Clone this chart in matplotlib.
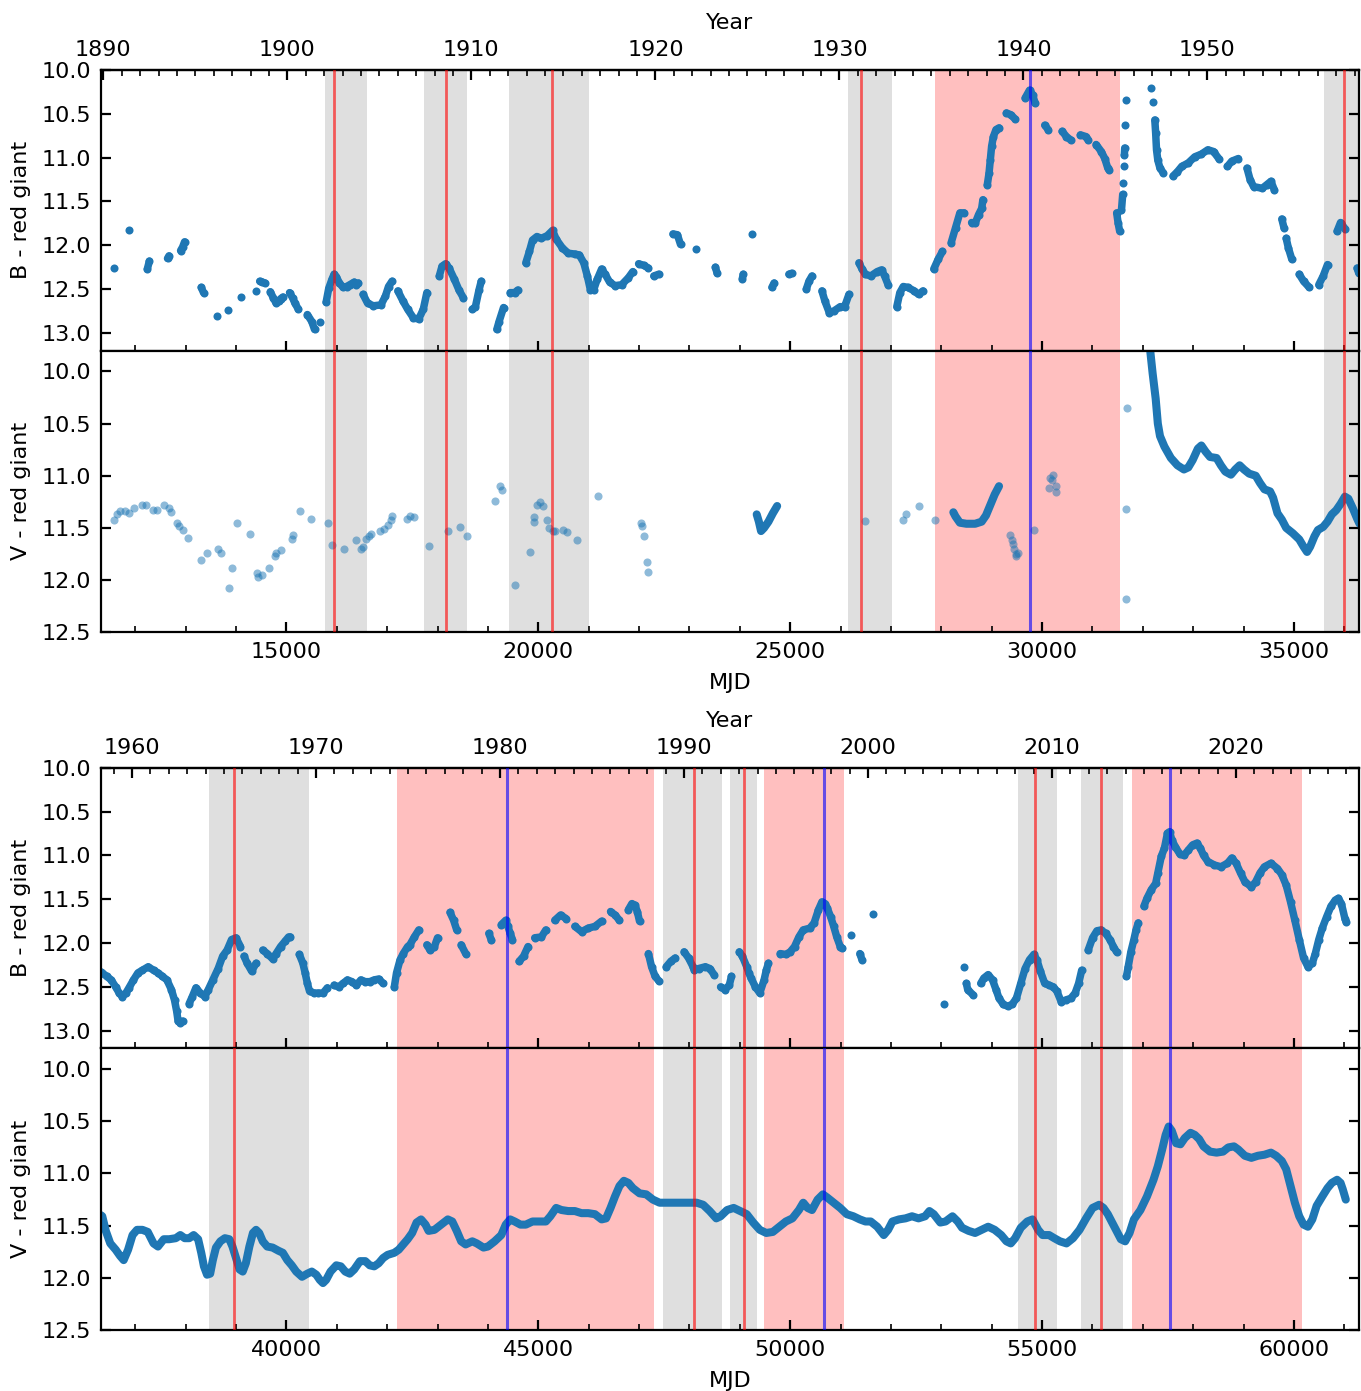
import numpy as np
import matplotlib
matplotlib.use("Agg")
import matplotlib.pyplot as plt
from matplotlib.ticker import MultipleLocator, FixedLocator

N = np.nan

# ---------------- bands / event lines (MJD) ----------------
gray_bands = [(15771, 16596), (17741, 18594), (19410, 21008), (26139, 27020), (35603, 36290),
              (38463, 40443), (47473, 48640), (48797, 49350), (54519, 55296), (55771, 56610)]
pink_bands = [(27867, 31540), (42200, 47294), (49479, 51069), (56783, 60155)]
red_lines = [15948, 18177, 20280, 26397, 35984, 38960, 48085, 49089, 54864, 56161]
blue_lines = [29769, 44383, 50664, 57544]

xlims = [(11320, 36290), (36320, 61290)]
year_ticks = [[1890, 1900, 1910, 1920, 1930, 1940, 1950],
              [1960, 1970, 1980, 1990, 2000, 2010, 2020]]

# ---------------- B band, first half (NaN separates segments) ----------------
b1_mjd = [11584, N, 11885, N, 12240, 12280, N, 12640, 12670, N, 12900, 12940, 12979, N,
          13310, 13355, N, 13620, N, 13841, N, 14106, N, 14398, N, 14470, 14520, 14575, N,
          14681, 14740, 14796, 14850, 14885, 14930, N, 15062, 15124, 15168, 15239, N,
          15416, 15504, 15558, N, 15664, N,
          15788, 15841, 15903, 15947, 15991, 16053, 16124, 16195, 16257, 16345, 16390, 16430, N,
          16522, 16611, 16726, 16876, 16965, 17027, 17097, N,
          17212, 17318, 17407, 17522, 17628, 17717, 17788, N,
          18035, 18088, 18159, 18230, 18336, 18425, 18513, N,
          18690, 18752, 18823, 18867, N, 19177, 19221, 19310, N, 19442, 19531, 19593, N,
          19752, 19823, 19885, 19973, 20062, 20177, 20283, 20354, 20478, 20593, 20726, 20814,
          20903, 20973, 21035, 21097, 21168, 21257, 21327, 21416, 21522, 21655, 21788, 21876, N,
          21991, 22097, 22186, N, 22292, 22389, N, 22673, 22761, 22823, N, 23125, N,
          23515, 23550, N, 24050, 24067, N, 24240, N, 24637, 24680, N, 24974, 25026, N,
          25320, 25372, 25432, N, 25630, 25691, 25777, 25864, 25993, 26080, 26166, N,
          26364, 26425, 26494, 26598, 26727, 26813, 26874, 26943, N,
          27116, 27176, 27245, 27332, 27461, 27547, 27634, N, 27850, 27936, 28022, N,
          28195, 28282, 28368, 28454, N, 28601, 28670, 28739, 28800, 28825, N,
          28912, 28946, 28972, 28998, 29033, 29085, 29145, N, 29292, 29378, 29465, N,
          29663, 29750, 29810, 29862, N, 30052, 30121, N, 30397, 30484, 30570, N,
          30760, 30872, 30915, N, 31071, 31174, 31244, 31304, 31330, N,
          31480, 31510, 31540, N, 31575, 31600, N, 31612, N, 31622, N, 31632, 31640, N, 31652, N, 31667, N,
          32168, N, 32194, N, 32237, 32254, 32271, 32297, 32340, 32401, N,
          32599, 32686, 32772, 32902, 33031, 33161, 33290, 33402, 33506, N,
          33679, 33765, 33895, N, 34067, 34128, 34197, 34370, 34456, 34542, 34611, N,
          34758, 34801, N, 34845, 34888, 34957, N, 35104, 35190, 35302, N,
          35492, 35579, 35665, N, 35855, 35924, 36010, N, 36252, 36287]
b1_mag = [12.26, N, 11.83, N, 12.27, 12.18, N, 12.15, 12.12, N, 12.06, 12.02, 11.96, N,
          12.48, 12.54, N, 12.81, N, 12.74, N, 12.59, N, 12.52, N, 12.41, 12.42, 12.43, N,
          12.53, 12.60, 12.66, 12.63, 12.61, 12.59, N, 12.54, 12.60, 12.66, 12.73, N,
          12.79, 12.87, 12.96, N, 12.87, N,
          12.65, 12.49, 12.39, 12.33, 12.36, 12.43, 12.48, 12.47, 12.45, 12.42, 12.45, 12.43, N,
          12.56, 12.66, 12.69, 12.68, 12.58, 12.47, 12.41, N,
          12.52, 12.64, 12.73, 12.83, 12.84, 12.73, 12.54, N,
          12.35, 12.24, 12.21, 12.26, 12.39, 12.51, 12.60, N,
          12.73, 12.70, 12.51, 12.41, N, 12.96, 12.87, 12.71, N, 12.54, 12.54, 12.51, N,
          12.20, 12.07, 11.94, 11.90, 11.92, 11.89, 11.83, 11.93, 12.03, 12.09, 12.10, 12.11,
          12.20, 12.35, 12.51, 12.51, 12.39, 12.27, 12.33, 12.42, 12.46, 12.45, 12.37, 12.30, N,
          12.21, 12.23, 12.26, N, 12.35, 12.33, N, 11.87, 11.88, 11.99, N, 12.04, N,
          12.25, 12.32, N, 12.38, 12.33, N, 11.87, N, 12.48, 12.43, N, 12.33, 12.32, N,
          12.50, 12.41, 12.35, N, 12.52, 12.64, 12.77, 12.75, 12.70, 12.70, 12.56, N,
          12.20, 12.27, 12.33, 12.35, 12.30, 12.28, 12.35, 12.45, N,
          12.70, 12.54, 12.47, 12.48, 12.52, 12.56, 12.52, N, 12.27, 12.16, 12.07, N,
          11.97, 11.80, 11.63, 11.63, N, 11.74, 11.75, 11.65, 11.58, 11.48, N,
          11.31, 11.18, 11.03, 10.87, 10.76, 10.68, 10.66, N, 10.49, 10.51, 10.56, N,
          10.32, 10.23, 10.28, 10.38, N, 10.63, 10.68, N, 10.70, 10.76, 10.80, N,
          10.74, 10.76, 10.80, N, 10.85, 10.93, 11.01, 11.12, 11.14, N,
          11.63, 11.75, 11.84, N, 11.60, 11.42, N, 11.29, N, 11.10, N, 10.97, 10.89, N, 10.63, N, 10.34, N,
          10.20, N, 10.36, N, 10.57, 10.72, 10.91, 11.03, 11.12, 11.17, N,
          11.21, 11.16, 11.10, 11.06, 10.99, 10.96, 10.91, 10.93, 11.01, N,
          11.10, 11.04, 11.01, N, 11.12, 11.25, 11.33, 11.35, 11.31, 11.27, 11.37, N,
          11.70, 11.80, N, 11.92, 12.03, 12.16, N, 12.33, 12.41, 12.48, N,
          12.45, 12.35, 12.22, N, 11.84, 11.74, 11.81, N, 12.26, 12.32]

# ---------------- V band, first half: scattered points ----------------
v1s_mjd = [11584, 11628, 11699, 11788, 11876, 11982, 12124, 12212, 12345, 12425, 12566, 12673,
           12717, 12832, 12876, 12938, 13044, 13310, 13416, 13637, 13699, 13867, 13920, 14018,
           14274, 14407, 14434, 14522, 14646, 14770, 14796, 14885, 15106, 15133, 15265, 15487,
           15832, 15903, 16142, 16381, 16478, 16522, 16584, 16637, 16673, 16858, 16938, 17009,
           17080, 17097, 17389, 17451, 17540, 17823, 18204, 18442, 18575, 19150, 19248, 19283,
           19531, 19841, 19912, 19920, 19973, 20035, 20088, 20177, 20212, 20283, 20327, 20487,
           20575, 20770, 21177, 22035, 22053, 22097, 22159, 22177,
           26494, 27245, 27297, 27556, 27867,
           29361, 29395, 29420, 29450, 29475, 29490, 29520, 29836,
           30138, 30155, 30190, 30207, 30276, 30276, 31693, 31667, 31667]
v1s_mag = [11.42, 11.37, 11.34, 11.34, 11.36, 11.31, 11.28, 11.28, 11.33, 11.33, 11.28, 11.31,
           11.35, 11.45, 11.48, 11.52, 11.60, 11.81, 11.74, 11.70, 11.74, 12.08, 11.88, 11.45,
           11.56, 11.93, 11.97, 11.95, 11.88, 11.77, 11.74, 11.71, 11.61, 11.57, 11.34, 11.41,
           11.45, 11.66, 11.70, 11.62, 11.70, 11.68, 11.61, 11.58, 11.56, 11.53, 11.51, 11.47,
           11.42, 11.39, 11.41, 11.39, 11.40, 11.67, 11.53, 11.49, 11.58, 11.24, 11.10, 11.14,
           12.05, 11.73, 11.44, 11.40, 11.28, 11.25, 11.29, 11.42, 11.50, 11.53, 11.53, 11.52,
           11.54, 11.62, 11.19, 11.45, 11.48, 11.58, 11.83, 11.92,
           11.43, 11.42, 11.37, 11.29, 11.42,
           11.57, 11.62, 11.65, 11.70, 11.75, 11.77, 11.74, 11.52,
           11.12, 11.02, 11.04, 10.99, 11.10, 11.16, 10.35, 11.32, 12.18]

# ---------------- V band, first half: dense runs ----------------
v1d_mjd = [24335, 24378, 24421, 24481, 24568, 24655, 24741, N,
           28238, 28281, 28368, 28497, 28670, 28800, 28886, 28972, 29058, 29145, N,
           32140, 32150, 32194, 32254, 32297, 32340, 32427, 32556, 32686, 32815, 32902, 32988,
           33092, 33161, 33247, 33333, 33463, 33549, 33636, 33748, 33834, 33921, 34007, 34111,
           34240, 34326, 34413, 34525, 34585, 34672, 34758, 34845, 34974, 35104, 35190, 35259,
           35320, 35406, 35475, 35579, 35665, 35751, 35838, 35924, 36010, 36079, 36166, 36252,
           36300]
v1d_mag = [11.37, 11.44, 11.53, 11.50, 11.44, 11.36, 11.29, N,
           11.35, 11.39, 11.45, 11.46, 11.46, 11.44, 11.38, 11.28, 11.18, 11.10, N,
           9.75, 9.82, 10.02, 10.26, 10.50, 10.62, 10.72, 10.83, 10.90, 10.94, 10.92, 10.85,
           10.74, 10.71, 10.77, 10.82, 10.83, 10.90, 10.96, 10.99, 10.94, 10.90, 10.94, 10.98,
           11.00, 11.07, 11.13, 11.15, 11.21, 11.36, 11.42, 11.50, 11.55, 11.61, 11.68, 11.73,
           11.68, 11.58, 11.52, 11.49, 11.44, 11.37, 11.33, 11.27, 11.20, 11.22, 11.31, 11.41,
           11.46]

# ---------------- B band, second half ----------------
b2_mjd = [36320, 36345, 36434, 36522, 36611, 36681, 36743, 36814, 36876, 36965, 37053, 37142,
          37257, 37363, 37451, 37540, 37628, 37717, 37779, 37823, 37850, 37894, 37938, N,
          38071, 38133, 38204, 38292, 38381, 38451, 38540, 38646, 38735, 38823, 38912, 39000, 39088, N,
          39159, 39221, 39310, 39398, N,
          39531, 39619, 39726, 39796, 39885, 39973, 40044, 40080, N,
          40257, 40327, 40372, 40416, 40460, 40549, 40637, 40726, 40814, N,
          40947, 41035, 41124, 41212, 41301, 41389, 41478, 41566, 41655, 41743, 41832, 41920, N,
          42142, 42186, 42257, 42319, 42407, 42451, 42540, 42628, N,
          42788, 42850, 42938, 43000, N, 43248, 43319, 43381, N, 43469, 43558, N,
          44018, 44071, N, 44265, 44354, 44398, 44442, 44487, N,
          44619, 44708, 44796, N, 44929, 45062, 45150, N, 45327, 45442, 45549, N,
          45726, 45858, 45991, 46124, 46257, N, 46434, 46522, 46611, N,
          46788, 46858, 46920, 46965, 47009, N, 47186, 47248, 47319, 47390, N,
          47540, 47628, 47717, N,
          47894, 47982, 48071, 48100, 48186, 48316, 48402, 48489, N,
          48618, 48705, 48791, 48834, N,
          48990, 49050, 49137, 49180, 49223, 49309, 49396, 49482, 49525, 49568, N,
          49801, 49914, 50000, 50086, 50173, 50259, 50389, 50475, 50561, 50630, 50691, 50734,
          50803, 50864, 50924, 50993, 51036, N,
          51209, N, 51382, 51425, N, 51641, N, 53048, N, 53454, N, 53497, 53523, 53627, N,
          53782, 53843, 53929, 54016, 54085, 54145, 54231, 54318, 54404, 54490, 54577, 54663,
          54750, 54836, 54896, 54965, 55052, 55138, 55225, 55294, 55380, 55466, 55570, 55656,
          55725, 55786, N,
          55915, 56002, 56088, 56174, 56261, 56347, 56416, 56477, N,
          56675, 56710, 56762, 56822, 56865, 56908, N,
          57021, 57081, 57168, 57254, 57297, 57366, 57427, 57487, 57530, 57573, 57642, 57729,
          57815, 57902, 57988, 58074, 58143, 58204, 58290, 58420, 58549, 58679, 58765, 58851,
          58938, 59024, 59154, 59240, 59326, 59413, 59542, 59672, 59758, 59845, 59931, 60017,
          60104, 60190, 60276, 60363, 60423, 60492, 60561, 60648, 60734, 60820, 60881, 60941,
          61010, 61036]
b2_mag = [12.33, 12.34, 12.38, 12.42, 12.50, 12.57, 12.61, 12.57, 12.51, 12.42, 12.34, 12.31,
          12.27, 12.31, 12.34, 12.38, 12.42, 12.53, 12.65, 12.78, 12.89, 12.91, 12.89, N,
          12.69, 12.61, 12.51, 12.57, 12.61, 12.53, 12.42, 12.29, 12.15, 12.08, 11.96, 11.94, 12.04, N,
          12.15, 12.23, 12.32, 12.23, N,
          12.08, 12.12, 12.18, 12.12, 12.04, 11.98, 11.93, 11.93, N,
          12.13, 12.23, 12.34, 12.46, 12.55, 12.57, 12.57, 12.57, 12.51, N,
          12.48, 12.50, 12.46, 12.42, 12.44, 12.48, 12.42, 12.44, 12.44, 12.42, 12.41, 12.46, N,
          12.50, 12.34, 12.19, 12.12, 12.04, 12.02, 11.93, 11.85, N,
          12.02, 12.08, 12.04, 11.94, N, 11.65, 11.74, 11.85, N, 12.02, 12.12, N,
          11.89, 11.97, N, 11.79, 11.74, 11.81, 11.89, 11.96, N,
          12.21, 12.15, 12.04, N, 11.94, 11.93, 11.85, N, 11.74, 11.68, 11.72, N,
          11.81, 11.87, 11.83, 11.81, 11.75, N, 11.64, 11.68, 11.74, N,
          11.62, 11.55, 11.57, 11.64, 11.75, N, 12.12, 12.27, 12.38, 12.43, N,
          12.27, 12.21, 12.17, N,
          12.10, 12.17, 12.27, 12.31, 12.29, 12.27, 12.29, 12.36, N,
          12.50, 12.53, 12.48, 12.38, N,
          12.10, 12.15, 12.27, 12.34, 12.40, 12.50, 12.57, 12.42, 12.31, 12.23, N,
          12.12, 12.13, 12.10, 12.04, 11.93, 11.85, 11.83, 11.77, 11.62, 11.53, 11.55, 11.60,
          11.70, 11.81, 11.93, 12.04, 12.06, N,
          11.91, N, 12.12, 12.19, N, 11.67, N, 12.70, N, 12.27, N, 12.46, 12.53, 12.59, N,
          12.46, 12.40, 12.36, 12.42, 12.53, 12.63, 12.70, 12.72, 12.70, 12.63, 12.46, 12.29,
          12.19, 12.13, 12.19, 12.32, 12.46, 12.48, 12.50, 12.55, 12.67, 12.65, 12.63, 12.57,
          12.46, 12.31, N,
          12.08, 11.94, 11.86, 11.85, 11.89, 11.96, 12.04, 12.10, N,
          12.38, 12.27, 12.10, 11.96, 11.85, 11.77, N,
          11.58, 11.49, 11.39, 11.32, 11.20, 11.01, 10.92, 10.75, 10.73, 10.82, 10.90, 10.98,
          11.00, 10.94, 10.88, 10.86, 10.92, 11.00, 11.07, 11.11, 11.13, 11.09, 11.03, 11.09,
          11.20, 11.30, 11.36, 11.30, 11.20, 11.13, 11.09, 11.15, 11.22, 11.34, 11.53, 11.74,
          11.96, 12.17, 12.27, 12.23, 12.12, 11.96, 11.83, 11.70, 11.58, 11.51, 11.49, 11.55,
          11.72, 11.76]

# ---------------- V band, second half ----------------
v2_mjd = [36320, 36345, 36415, 36504, 36611, 36699, 36770, 36858, 36946, 37035, 37142, 37248,
          37363, 37451, 37566, 37673, 37805, 37894, 37982, 38071, 38159, 38248, 38310, 38363,
          38425, 38487, 38540, 38602, 38690, 38779, 38867, 38929, 39000, 39071, 39133, 39195,
          39265, 39336, 39398, 39460, 39531, 39619, 39726, 39841, 39929, 40018, 40106, 40195,
          40310, 40416, 40504, 40593, 40664, 40726, 40788, 40876, 40991, 41080, 41168, 41257,
          41345, 41460, 41566, 41655, 41743, 41832, 41920, 42009, 42142, 42230, 42319, 42407,
          42496, 42584, 42673, 42761, 42823, 42938, 43071, 43204, 43292, 43381, 43469, 43558,
          43690, 43779, 43912, 44000, 44133, 44265, 44354, 44442, 44531, 44646, 44752, 44885,
          45018, 45150, 45239, 45354, 45460, 45593, 45726, 45858, 45991, 46124, 46257, 46345,
          46434, 46522, 46611, 46699, 46788, 46876, 47009, 47142, 47274, 47407, 47540, 47673,
          47805, 47971, 48143, 48273, 48402, 48532, 48618, 48748, 48878, 49007, 49137, 49266,
          49396, 49525, 49655, 49784, 49914, 50043, 50173, 50259, 50345, 50432, 50544, 50648,
          50734, 50864, 50993, 51123, 51253, 51382, 51494, 51598, 51727, 51857, 51943, 52029,
          52159, 52288, 52418, 52547, 52677, 52763, 52850, 52979, 53083, 53221, 53325, 53411,
          53541, 53670, 53800, 53929, 54059, 54188, 54292, 54378, 54465, 54577, 54706, 54810,
          54922, 55009, 55138, 55242, 55354, 55484, 55613, 55743, 55873, 56002, 56131, 56218,
          56304, 56390, 56477, 56563, 56649, 56736, 56822, 56952, 57081, 57211, 57297, 57383,
          57452, 57513, 57573, 57660, 57746, 57832, 57945, 58031, 58117, 58204, 58333, 58463,
          58592, 58696, 58808, 58894, 59024, 59154, 59283, 59413, 59542, 59646, 59758, 59845,
          59931, 60017, 60104, 60190, 60276, 60363, 60449, 60561, 60665, 60751, 60855, 60924,
          60967, 61028]
v2_mag = [11.40, 11.41, 11.55, 11.67, 11.73, 11.79, 11.83, 11.73, 11.59, 11.54, 11.54, 11.56,
          11.67, 11.70, 11.63, 11.63, 11.62, 11.59, 11.62, 11.62, 11.59, 11.63, 11.76, 11.89,
          11.97, 11.96, 11.83, 11.71, 11.65, 11.62, 11.63, 11.70, 11.81, 11.92, 11.94, 11.86,
          11.70, 11.57, 11.54, 11.57, 11.65, 11.70, 11.71, 11.74, 11.76, 11.83, 11.88, 11.94,
          11.99, 11.96, 11.94, 11.97, 12.02, 12.05, 12.02, 11.94, 11.88, 11.89, 11.94, 11.96,
          11.92, 11.84, 11.84, 11.88, 11.89, 11.86, 11.81, 11.78, 11.76, 11.73, 11.68, 11.63,
          11.57, 11.47, 11.44, 11.49, 11.55, 11.54, 11.49, 11.44, 11.46, 11.55, 11.65, 11.68,
          11.65, 11.67, 11.71, 11.70, 11.65, 11.59, 11.49, 11.44, 11.46, 11.49, 11.49, 11.46,
          11.46, 11.46, 11.41, 11.33, 11.35, 11.36, 11.36, 11.38, 11.38, 11.39, 11.44, 11.43,
          11.33, 11.22, 11.12, 11.07, 11.09, 11.14, 11.19, 11.20, 11.25, 11.28, 11.28, 11.28,
          11.28, 11.28, 11.28, 11.30, 11.36, 11.43, 11.41, 11.35, 11.33, 11.36, 11.39, 11.47,
          11.54, 11.57, 11.56, 11.51, 11.46, 11.43, 11.35, 11.28, 11.33, 11.35, 11.25, 11.20,
          11.23, 11.28, 11.33, 11.39, 11.41, 11.44, 11.46, 11.46, 11.51, 11.59, 11.54, 11.46,
          11.44, 11.43, 11.41, 11.43, 11.41, 11.36, 11.39, 11.47, 11.46, 11.41, 11.46, 11.52,
          11.55, 11.57, 11.54, 11.51, 11.54, 11.59, 11.65, 11.67, 11.62, 11.52, 11.46, 11.44,
          11.54, 11.59, 11.59, 11.62, 11.65, 11.67, 11.62, 11.54, 11.43, 11.33, 11.30, 11.33,
          11.39, 11.47, 11.55, 11.63, 11.65, 11.57, 11.44, 11.35, 11.22, 11.06, 10.93, 10.77,
          10.63, 10.55, 10.59, 10.71, 10.72, 10.66, 10.61, 10.63, 10.67, 10.74, 10.79, 10.80,
          10.79, 10.75, 10.74, 10.77, 10.83, 10.85, 10.83, 10.82, 10.80, 10.83, 10.88, 10.96,
          11.12, 11.28, 11.41, 11.49, 11.51, 11.44, 11.31, 11.22, 11.14, 11.09, 11.06, 11.09,
          11.15, 11.25]

b_ticks = [10.0, 10.5, 11.0, 11.5, 12.0, 12.5, 13.0]
v_ticks = [10.0, 10.5, 11.0, 11.5, 12.0, 12.5]

# ---------------- figure ----------------
plt.rcParams['font.family'] = ['DejaVu Sans']
plt.rcParams['font.size'] = 8
W, H = 1361, 1391
fig = plt.figure(figsize=(W / 200, H / 200), dpi=200)

left = 101 / W
width = (1359 - 101) / W


def frac(y0, y1):
    return [left, 1 - y1 / H, width, (y1 - y0) / H]


def mjd2yr(m):
    return 2000.0 + (np.asarray(m) - 51544.0) / 365.25


def yr2mjd(y):
    return 51544.0 + (np.asarray(y) - 2000.0) * 365.25


BLUE = '#1f77b4'


def decorate(ax, xl):
    for a, b in gray_bands:
        ax.axvspan(a, b, color='gray', alpha=0.25, lw=0, zorder=0)
    for a, b in pink_bands:
        ax.axvspan(a, b, color='red', alpha=0.25, lw=0, zorder=0)
    for m in red_lines:
        ax.axvline(m, color='red', alpha=0.6, lw=1.0, zorder=3)
    for m in blue_lines:
        ax.axvline(m, color='blue', alpha=0.6, lw=1.1, zorder=3)
    ax.set_xlim(*xl)
    ax.xaxis.set_major_locator(MultipleLocator(5000))
    ax.xaxis.set_minor_locator(MultipleLocator(1000))
    ax.tick_params(which='both', direction='in', right=True)
    ax.tick_params(which='major', length=3.5)
    ax.tick_params(which='minor', length=2)


groups = [
    ((70, 350.5), (350.5, 632.3), b1_mjd, b1_mag, v1s_mjd, v1s_mag, v1d_mjd, v1d_mag),
    ((767.7, 1048.3), (1048.3, 1330), b2_mjd, b2_mag, None, None, v2_mjd, v2_mag),
]

for gi, (pb, pv, bm, bmag, vsm, vsmag, vdm, vdmag) in enumerate(groups):
    xl = xlims[gi]
    axb = fig.add_axes(frac(*pb))
    axv = fig.add_axes(frac(*pv), sharex=axb)

    decorate(axb, xl)
    decorate(axv, xl)

    axb.plot(bm, bmag, '-o', color=BLUE, lw=2.7, ms=2.9, mew=0, zorder=2,
             solid_capstyle='round', solid_joinstyle='round')
    if vsm is not None:
        axv.scatter(vsm, vsmag, s=8.5, color=BLUE, alpha=0.5, lw=0, zorder=2)
    axv.plot(vdm, vdmag, '-', color=BLUE, lw=2.9, zorder=2,
             solid_capstyle='round', solid_joinstyle='round')

    axb.set_ylim(13.2, 10.0)
    axv.set_ylim(12.5, 9.8)
    axb.set_yticks(b_ticks)
    axv.set_yticks(v_ticks)
    axb.set_ylabel('B - red giant')
    axv.set_ylabel('V - red giant')
    axb.tick_params(which='both', top=False, labelbottom=False)
    axv.tick_params(which='both', top=False)
    axv.set_xlabel('MJD')

    sec = axb.secondary_xaxis('top', functions=(mjd2yr, yr2mjd))
    sec.xaxis.set_major_locator(FixedLocator(year_ticks[gi]))
    lo, hi = mjd2yr(xl[0]), mjd2yr(xl[1])
    sec.xaxis.set_minor_locator(FixedLocator(list(range(int(np.ceil(lo)), int(np.floor(hi)) + 1))))
    sec.tick_params(which='both', direction='in')
    sec.tick_params(which='major', length=3.5)
    sec.tick_params(which='minor', length=2)
    sec.set_xlabel('Year')

fig.savefig('out.png', dpi=200)
